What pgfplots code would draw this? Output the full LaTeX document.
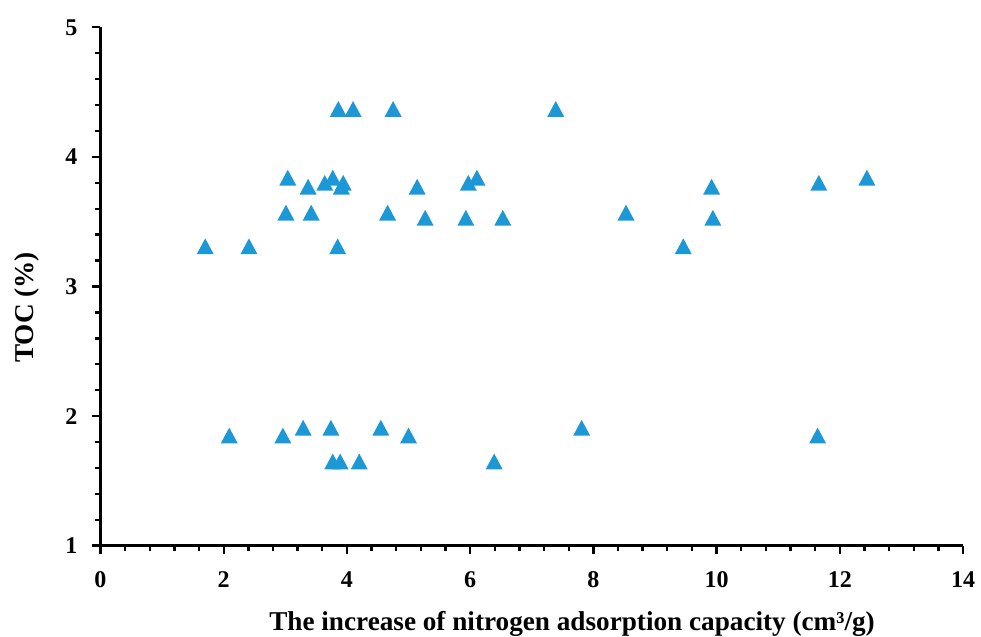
\documentclass[border=0pt]{standalone}
\usepackage{pgfplots}
\pgfplotsset{compat=1.18}
\usepackage{fontspec}
\setmainfont{Liberation Serif}
\definecolor{tri}{RGB}{27,152,213}
\pgfdeclareplotmark{xtri}{%
  \pgfpathmoveto{\pgfpoint{0pt}{0.93\pgfplotmarksize}}%
  \pgfpathlineto{\pgfpoint{-\pgfplotmarksize}{-0.93\pgfplotmarksize}}%
  \pgfpathlineto{\pgfpoint{\pgfplotmarksize}{-0.93\pgfplotmarksize}}%
  \pgfpathclose
  \pgfusepathqfill}
\begin{document}
\begin{tikzpicture}
\begin{axis}[
  scale only axis,
  width=431.25pt, height=259.2pt,
  xmin=0, xmax=14, ymin=1, ymax=5,
  axis x line*=bottom, axis y line*=left,
  axis line style={line width=1.3pt,-},
  xtick={0,2,...,14}, ytick={1,2,3,4,5},
  minor x tick num=4, minor y tick num=4,
  tick align=outside,
  major tick length=4pt, minor tick length=2.6pt,
  every tick/.style={black, line width=1.2pt},
  /pgf/number format/assume math mode=true,
  ticklabel style={font=\fontsize{12}{14}\selectfont\bfseries},
  xticklabel style={yshift=-5.5pt},
  yticklabel style={xshift=-4pt},
  xlabel={The increase of nitrogen adsorption capacity (cm³/g)},
  ylabel={TOC (\%)},
  label style={font=\fontsize{13.6}{16}\selectfont\bfseries},
  xlabel style={at={(axis description cs:0.5467,-0.164)}, anchor=base},
  ylabel style={at={(axis description cs:-0.0852,0.4595)}, anchor=center, rotate=0},
  clip=false,
]
\coordinate (sw) at (rel axis cs:0,0);
\coordinate (ne) at (rel axis cs:1,1);
\addplot[only marks, mark=xtri, mark size=4.25pt, color=tri, mark options={fill=tri}]
coordinates {
(3.86,4.37) (4.10,4.37) (4.75,4.37) (7.39,4.37)
(3.04,3.84) (3.77,3.84) (6.11,3.84) (12.44,3.84)
(3.64,3.80) (3.94,3.80) (5.97,3.80) (11.66,3.80)
(3.37,3.77) (3.91,3.77) (5.14,3.77) (9.92,3.77)
(3.01,3.57) (3.42,3.57) (4.66,3.57) (8.53,3.57)
(5.27,3.53) (5.93,3.53) (6.53,3.53) (9.94,3.53)
(1.70,3.31) (2.41,3.31) (3.85,3.31) (9.46,3.31)
(3.29,1.91) (3.74,1.91) (4.55,1.91) (7.81,1.91)
(2.09,1.85) (2.96,1.85) (5.00,1.85) (11.64,1.85)
(3.77,1.65) (3.89,1.65) (4.20,1.65) (6.39,1.65)
};
\end{axis}
\pgfresetboundingbox
\path ([xshift=-50.25pt,yshift=-45.65pt]sw) rectangle ([xshift=9pt,yshift=13.65pt]ne);
\end{tikzpicture}
\end{document}
